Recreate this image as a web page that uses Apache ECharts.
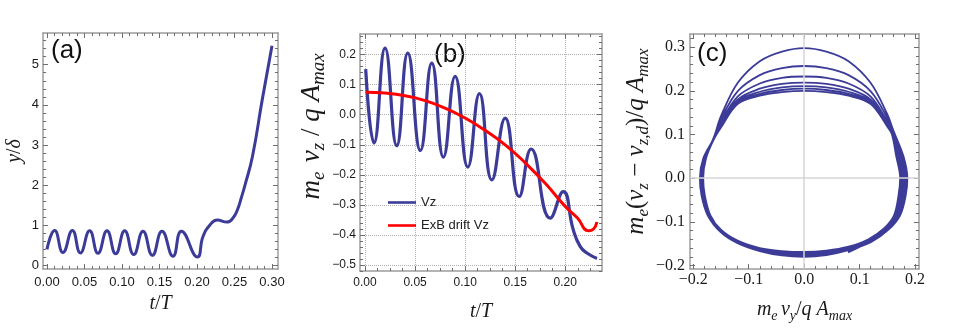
<!DOCTYPE html>
<html>
<head>
<meta charset="utf-8">
<script src="https://cdn.jsdelivr.net/npm/echarts@6/dist/echarts.min.js"></script>
<style>
  html, body { margin: 0; background: #fff; }
  #chart { width: 957px; height: 333px; }
</style>
</head>
<body>
<div id="chart"></div>
<script>
// (a) y/delta against t/T, read at the turning points
const aT = [0, 0.0103, 0.0213, 0.0339, 0.0445, 0.0569, 0.068, 0.080, 0.0916, 0.1036, 0.1156, 0.128,
  0.1405, 0.1533, 0.168, 0.1792, 0.2005, 0.208, 0.217, 0.227, 0.240, 0.248, 0.254, 0.259, 0.264, 0.274, 0.287, 0.300];
const aY = [0.40, 0.87, 0.32, 0.87, 0.31, 0.86, 0.30, 0.86, 0.29, 0.86, 0.27, 0.85,
  0.25, 0.85, 0.23, 0.85, 0.21, 0.72, 1.00, 1.13, 1.08, 1.18, 1.39, 1.68, 2.00, 2.72, 4.13, 5.47];

// (b) Vz and the ExB drift Vz
const bT = [0.0007, 0.009, 0.020, 0.0317, 0.0427, 0.0553, 0.0667, 0.0783, 0.090, 0.1027, 0.1143,
  0.1267, 0.140, 0.154, 0.166, 0.185, 0.198, 0.208, 0.215, 0.222, 0.2317];
const bVz = [0.152, -0.094, 0.222, -0.103, 0.205, -0.119, 0.172, -0.141, 0.128, -0.174, 0.070,
  -0.217, -0.011, -0.272, -0.114, -0.344, -0.256, -0.383, -0.439, -0.461, -0.478];
const rT = [0.0007, 0.02, 0.04, 0.06, 0.08, 0.10, 0.12, 0.14, 0.16, 0.18, 0.20, 0.212, 0.2233, 0.228, 0.2317];
const rVz = [0.075, 0.072, 0.063, 0.047, 0.022, -0.011, -0.052, -0.100, -0.160, -0.228, -0.305, -0.343, -0.386, -0.381, -0.357];

// (c) (vy, vz - vz,d): seven turns, top arc then right, bottom and left side
const phase = [
  [-0.182, 0.045],
  [-0.164, 0.090], [-0.150, 0.142], [-0.120, 0.218], [-0.080, 0.268], [-0.040, 0.290], [0.000, 0.298],
  [0.040, 0.290], [0.080, 0.268], [0.120, 0.218], [0.150, 0.146], [0.160, 0.112],
  [0.179, 0.050], [0.186, 0.000], [0.183, -0.040], [0.173, -0.085], [0.152, -0.118], [0.121, -0.146],
  [0.080, -0.165], [0.040, -0.176], [0.000, -0.180], [-0.040, -0.177], [-0.080, -0.167], [-0.120, -0.149],
  [-0.151, -0.123], [-0.174, -0.085], [-0.185, -0.040], [-0.188, 0.000], [-0.182, 0.045],

  [-0.164, 0.089], [-0.150, 0.135], [-0.120, 0.199], [-0.080, 0.236], [-0.040, 0.252], [0.000, 0.257],
  [0.040, 0.252], [0.080, 0.236], [0.120, 0.199], [0.150, 0.138], [0.160, 0.108],
  [0.177, 0.050], [0.184, 0.000], [0.181, -0.040], [0.171, -0.085], [0.151, -0.117], [0.120, -0.145],
  [0.080, -0.163], [0.040, -0.174], [0.000, -0.178], [-0.040, -0.175], [-0.080, -0.166], [-0.120, -0.148],
  [-0.150, -0.122], [-0.173, -0.085], [-0.184, -0.040], [-0.187, 0.000], [-0.181, 0.045],

  [-0.164, 0.088], [-0.150, 0.128], [-0.120, 0.187], [-0.080, 0.217], [-0.040, 0.230], [0.000, 0.233],
  [0.040, 0.230], [0.080, 0.217], [0.120, 0.187], [0.150, 0.130], [0.159, 0.106],
  [0.174, 0.050], [0.181, 0.000], [0.178, -0.040], [0.169, -0.085], [0.149, -0.116], [0.119, -0.143],
  [0.080, -0.161], [0.040, -0.171], [0.000, -0.175], [-0.040, -0.173], [-0.080, -0.164], [-0.120, -0.146],
  [-0.150, -0.121], [-0.172, -0.085], [-0.182, -0.040], [-0.185, 0.000], [-0.180, 0.045],

  [-0.164, 0.088], [-0.150, 0.123], [-0.120, 0.180], [-0.080, 0.205], [-0.040, 0.216], [0.000, 0.219],
  [0.040, 0.216], [0.080, 0.205], [0.120, 0.180], [0.150, 0.125], [0.159, 0.104],
  [0.172, 0.050], [0.179, 0.000], [0.176, -0.040], [0.167, -0.085], [0.148, -0.115], [0.118, -0.142],
  [0.080, -0.159], [0.040, -0.169], [0.000, -0.173], [-0.040, -0.171], [-0.080, -0.163], [-0.120, -0.145],
  [-0.150, -0.120], [-0.171, -0.085], [-0.181, -0.040], [-0.184, 0.000], [-0.179, 0.045],

  [-0.164, 0.087], [-0.150, 0.120], [-0.120, 0.176], [-0.080, 0.198], [-0.040, 0.208], [0.000, 0.211],
  [0.040, 0.208], [0.080, 0.198], [0.120, 0.176], [0.150, 0.122], [0.158, 0.103],
  [0.170, 0.050], [0.177, 0.000], [0.174, -0.040], [0.165, -0.085], [0.147, -0.114], [0.117, -0.141],
  [0.080, -0.158], [0.040, -0.167], [0.000, -0.171], [-0.040, -0.169], [-0.080, -0.161], [-0.120, -0.144],
  [-0.150, -0.119], [-0.170, -0.085], [-0.180, -0.040], [-0.183, 0.000], [-0.178, 0.045],

  [-0.164, 0.087], [-0.150, 0.118], [-0.120, 0.173], [-0.080, 0.193], [-0.040, 0.202], [0.000, 0.205],
  [0.040, 0.202], [0.080, 0.193], [0.120, 0.173], [0.150, 0.120], [0.158, 0.102],
  [0.168, 0.050], [0.175, 0.000], [0.172, -0.040], [0.164, -0.085], [0.146, -0.113], [0.116, -0.140],
  [0.080, -0.157], [0.040, -0.166], [0.000, -0.169], [-0.040, -0.167], [-0.080, -0.160], [-0.120, -0.143],
  [-0.150, -0.118], [-0.169, -0.085], [-0.179, -0.040], [-0.182, 0.000], [-0.177, 0.045],

  [-0.164, 0.086], [-0.150, 0.116], [-0.120, 0.170], [-0.080, 0.189], [-0.040, 0.197], [0.000, 0.200],
  [0.040, 0.197], [0.080, 0.189], [0.120, 0.170], [0.150, 0.118], [0.158, 0.101],
  [0.166, 0.050], [0.173, 0.000], [0.170, -0.040], [0.162, -0.085], [0.145, -0.114], [0.115, -0.146],
  [0.079, -0.170]
];

// tick labels
const aXTicks = [0, 0.05, 0.10, 0.15, 0.20, 0.25, 0.30];
const aYTicks = [0, 1, 2, 3, 4, 5];
const bXTicks = [0, 0.05, 0.10, 0.15, 0.20];
const bYTicks = [-0.5, -0.4, -0.3, -0.2, -0.1, 0, 0.1, 0.2];
const cXTicks = [-0.2, -0.1, 0, 0.1, 0.2];
const cYTicks = [-0.2, -0.1, 0, 0.1, 0.2, 0.3];

const FRAME = '#9c9c9c';
const TICK = '#6e6e6e';
const INK = '#1a1a1a';
const SANS = '"Liberation Sans", Arial, sans-serif';
const SERIF = '"Liberation Serif", "Times New Roman", serif';
const BLUE = '#3c3c98';

const minus = s => s.replace('-', '\u2212');

function minorsOf(majors, step, min, max) {
  const out = [];
  for (let k = Math.ceil(min / step - 1e-6); k * step <= max + 1e-9; k++) {
    const v = +(k * step).toFixed(6);
    if (!majors.some(m => Math.abs(m - v) < 1e-9)) out.push(v);
  }
  return out;
}

function mathName(text, size, sub, gap, padding) {
  return {
    name: text,
    nameLocation: 'middle',
    nameGap: gap,
    nameTextStyle: {
      color: INK,
      padding: padding || 0,
      rich: {
        i: { fontFamily: SERIF, fontStyle: 'italic', fontSize: size, lineHeight: size + 6, color: INK },
        r: { fontFamily: SERIF, fontSize: size, lineHeight: size + 6, color: INK },
        s: { fontFamily: SERIF, fontStyle: 'italic', fontSize: sub, lineHeight: sub + 2, verticalAlign: 'bottom', color: INK }
      }
    }
  };
}

const xAxes = [];
const yAxes = [];
// four sides of a Mathematica-like frame, ticks inside, major + minor
function frame(list, dim, grid, min, max, majors, minorStep, label, name, split) {
  const first = list.length;
  const mainPos = dim === 'x' ? 'bottom' : 'left';
  const oppPos = dim === 'x' ? 'top' : 'right';
  const minors = minorsOf(majors, minorStep, min, max);
  const line = show => ({ show, onZero: false, lineStyle: { color: FRAME, width: 1.5 } });
  const tick = (vals, len) => ({ show: true, inside: true, length: len, customValues: vals, lineStyle: { color: TICK, width: 1 } });
  const base = { type: 'value', gridIndex: grid, min, max };
  list.push(Object.assign({}, base, name, {
    position: mainPos, axisLine: line(true), axisTick: tick(majors, 5),
    axisLabel: Object.assign({ customValues: majors }, label),
    splitLine: split || { show: false }
  }));
  list.push(Object.assign({}, base, {
    position: mainPos, axisLine: line(false), axisTick: tick(minors, 3), axisLabel: { show: false }, splitLine: { show: false }
  }));
  list.push(Object.assign({}, base, {
    position: oppPos, axisLine: line(true), axisTick: tick(majors, 5), axisLabel: { show: false }, splitLine: { show: false }
  }));
  list.push(Object.assign({}, base, {
    position: oppPos, axisLine: line(false), axisTick: tick(minors, 3), axisLabel: { show: false }, splitLine: { show: false }
  }));
  return first;
}

const dotted = { show: true, lineStyle: { type: 'dotted', color: '#b0b0b0', width: 1 } };

const aX = frame(xAxes, 'x', 0, -0.0053, 0.308, aXTicks, 0.01,
  { fontFamily: SANS, fontSize: 13, color: INK, margin: 7, formatter: v => v.toFixed(2) },
  mathName('{i|t}{r|/}{i|T}', 20, 14, 22));
const aYx = frame(yAxes, 'y', 0, -0.09, 5.79, aYTicks, 0.2,
  { fontFamily: SANS, fontSize: 13, color: INK, margin: 4, formatter: v => String(Math.round(v)) },
  mathName('{i|y}{r|/}{i|δ}', 20, 14, 15));

const bX = frame(xAxes, 'x', 1, -0.005, 0.2367, bXTicks, 0.0125,
  { fontFamily: SANS, fontSize: 12, color: INK, margin: 6, formatter: v => v.toFixed(2) },
  mathName('{i|t}{r|/}{i|T}', 20, 14, 28), dotted);
const bY = frame(yAxes, 'y', 1, -0.52, 0.2687, bYTicks, 0.02,
  { fontFamily: SANS, fontSize: 12, color: INK, margin: 4, formatter: v => minus(v.toFixed(1)) },
  mathName('{i|m}{s|e  }{i|v}{s|z}{r| / }{i|q A}{s|max}', 27, 19, 28, [0, 0, 0, 52]), dotted);

const cX = frame(xAxes, 'x', 2, -0.2058, 0.207, cXTicks, 0.02,
  { fontFamily: SERIF, fontSize: 16, color: INK, margin: 3, formatter: v => minus(v.toFixed(1)) },
  mathName('{i|m}{s|e} {i|v}{s|y}{r|/}{i|q A}{s|max}', 20, 14, 28));
const cY = frame(yAxes, 'y', 2, -0.208, 0.3303, cYTicks, 0.02,
  { fontFamily: SERIF, fontSize: 16, color: INK, margin: 5, formatter: v => minus(v.toFixed(1)) },
  mathName('{i|m}{s|e}{r|(}{i|v}{s|z}{r| − }{i|v}{s|z,d}{r|)/}{i|q A}{s|max}', 25, 17, 29, [0, 0, 0, 20]));

const pairs = (xs, ys) => xs.map((x, k) => [x, ys[k]]);
const LEGEND_LINE = 'path://M0,0H28V2.6H0Z';

const chart = echarts.init(document.getElementById('chart'));
chart.setOption({
  animation: false,
  backgroundColor: '#fff',
  grid: [
    { left: 43, top: 33, width: 235, height: 236, containLabel: false },
    { left: 360, top: 34, width: 242, height: 237, containLabel: false },
    { left: 690, top: 34, width: 229, height: 235, containLabel: false }
  ],
  xAxis: xAxes,
  yAxis: yAxes,
  legend: {
    data: [{ name: 'Vz', icon: LEGEND_LINE }, { name: 'ExB drift Vz', icon: LEGEND_LINE }],
    orient: 'vertical',
    left: 383,
    top: 191,
    itemWidth: 28,
    itemHeight: 14,
    itemGap: 10,
    textStyle: { fontFamily: SANS, fontSize: 13, color: '#222' }
  },
  graphic: [
    { type: 'text', x: 51, y: 51, style: { text: '(a)', font: '26px "Liberation Sans"', fill: '#111', verticalAlign: 'middle' } },
    { type: 'text', x: 434, y: 55, style: { text: '(b)', font: '26px "Liberation Sans"', fill: '#111', verticalAlign: 'middle' } },
    { type: 'text', x: 697, y: 54, style: { text: '(c)', font: '26px "Liberation Sans"', fill: '#111', verticalAlign: 'middle' } }
  ],
  series: [
    {
      name: 'y', type: 'line', xAxisIndex: aX, yAxisIndex: aYx, data: pairs(aT, aY),
      smooth: true, symbol: 'none', lineStyle: { color: BLUE, width: 3 }, itemStyle: { color: BLUE }
    },
    {
      name: 'Vz', type: 'line', xAxisIndex: bX, yAxisIndex: bY, data: pairs(bT, bVz),
      smooth: true, symbol: 'none', lineStyle: { color: BLUE, width: 3.2 }, itemStyle: { color: BLUE }
    },
    {
      name: 'ExB drift Vz', type: 'line', xAxisIndex: bX, yAxisIndex: bY, data: pairs(rT, rVz),
      smooth: true, symbol: 'none', lineStyle: { color: '#ff0000', width: 3 }, itemStyle: { color: '#ff0000' }
    },
    {
      name: 'axes0', type: 'line', xAxisIndex: cX, yAxisIndex: cY, data: [], z: 1,
      markLine: {
        silent: true, symbol: 'none', label: { show: false },
        lineStyle: { color: '#d6d6d6', width: 1.5, type: 'solid' },
        data: [{ xAxis: 0 }, { yAxis: 0 }]
      }
    },
    {
      name: 'phase', type: 'line', xAxisIndex: cX, yAxisIndex: cY, data: phase, z: 3,
      smooth: 0.35, symbol: 'none', lineStyle: { color: BLUE, width: 1.8 }, itemStyle: { color: BLUE }
    }
  ]
});
</script>
</body>
</html>
